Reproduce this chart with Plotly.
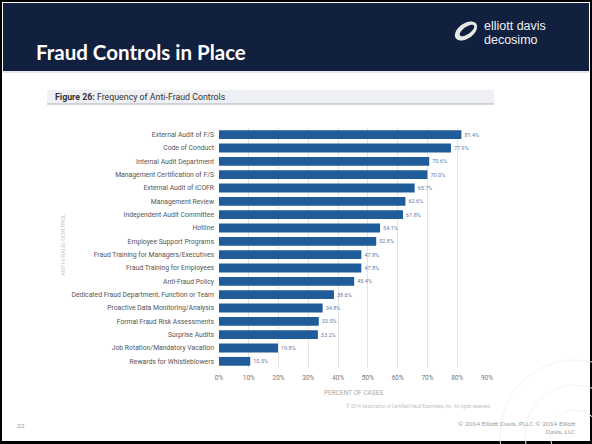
import math
import plotly.graph_objects as go

categories = [
    "External Audit of F/S", "Code of Conduct", "Internal Audit Department",
    "Management Certification of F/S", "External Audit of ICOFR", "Management Review",
    "Independent Audit Committee", "Hotline", "Employee Support Programs",
    "Fraud Training for Managers/Executives", "Fraud Training for Employees",
    "Anti-Fraud Policy", "Dedicated Fraud Department, Function or Team",
    "Proactive Data Monitoring/Analysis", "Formal Fraud Risk Assessments",
    "Surprise Audits", "Job Rotation/Mandatory Vacation", "Rewards for Whistleblowers",
]
values = [81.4, 77.9, 70.6, 70.0, 65.7, 62.6, 61.8, 54.1, 52.8, 47.8, 47.8,
          45.4, 38.6, 34.8, 33.5, 33.2, 19.8, 10.5]
x_ticks = [0, 10, 20, 30, 40, 50, 60, 70, 80, 90]
x_tick_labels = [f"{t}%" for t in x_ticks]

W, H = 592, 444
L, R, T, B = 219, 487, 128, 368


def px(x):
    return (x - L) / (R - L)


def py(y):
    return (B - y) / (B - T)


def ellipse_path(cx, cy, rx, ry, rot_deg, n=48):
    a = math.radians(rot_deg)
    pts = []
    for i in range(n):
        t = 2 * math.pi * i / n
        ex, ey = rx * math.cos(t), ry * math.sin(t)
        x = cx + ex * math.cos(a) - ey * math.sin(a)
        y = cy + ex * math.sin(a) + ey * math.cos(a)
        pts.append(f"{px(x):.5f},{py(y):.5f}")
    return "M" + " L".join(pts) + " Z"


fig = go.Figure(go.Bar(
    x=values, y=categories, orientation="h",
    marker=dict(color="#1f5c99", line=dict(width=0)),
    width=0.66,
    text=[f"{v:.1f}%" for v in values], textposition="outside",
    textfont=dict(size=5.5, color="#5f82aa", family="Roboto"),
    cliponaxis=False,
))

shapes = [
    dict(type="rect", xref="paper", yref="paper", x0=px(2), x1=px(590), y0=py(2), y1=py(441),
         fillcolor="white", line=dict(width=0), layer="below"),
    dict(type="rect", xref="paper", yref="paper", x0=px(3), x1=px(589), y0=py(3), y1=py(71),
         fillcolor="#12203f", line=dict(width=0), layer="below"),
    dict(type="line", xref="paper", yref="paper", x0=px(3), x1=px(589), y0=py(72), y1=py(72),
         line=dict(color="#c9ccd2", width=1), layer="below"),
    dict(type="rect", xref="paper", yref="paper", x0=px(47), x1=px(494), y0=py(90), y1=py(104),
         fillcolor="#eef0f3", line=dict(width=0), layer="below"),
    dict(type="line", xref="paper", yref="paper", x0=px(47), x1=px(494), y0=py(104), y1=py(104),
         line=dict(color="#aeb3ba", width=1), layer="below"),
    dict(type="path", xref="paper", yref="paper", path=ellipse_path(466, 31, 12.5, 7.5, -35),
         fillcolor="#e8e8e8", line=dict(width=0), layer="above"),
    dict(type="path", xref="paper", yref="paper", path=ellipse_path(467, 30.5, 8.5, 3.6, -35),
         fillcolor="#12203f", line=dict(width=0), layer="above"),
]
for r in (25, 50, 75):
    shapes.append(dict(type="circle", xref="paper", yref="paper",
                       x0=px(575 - r), x1=px(575 + r), y0=py(435 - r), y1=py(435 + r),
                       line=dict(color="#f2f5ef", width=1), layer="below"))

gray = "#9a9a9a"
annotations = [
    dict(text="<b>Fraud Controls in Place</b>", x=px(34), y=py(52), xref="paper", yref="paper",
         xanchor="left", yanchor="middle", showarrow=False,
         font=dict(family="Lato", size=20.5, color="white")),
    dict(text="elliott davis", x=px(482), y=py(26), xref="paper", yref="paper",
         xanchor="left", yanchor="middle", showarrow=False,
         font=dict(family="Liberation Sans", size=12.5, color="#f0f0f0")),
    dict(text="decosimo", x=px(482), y=py(40), xref="paper", yref="paper",
         xanchor="left", yanchor="middle", showarrow=False,
         font=dict(family="Liberation Sans", size=12.5, color="#f0f0f0")),
    dict(text="<b>Figure 26:</b> Frequency of Anti-Fraud Controls", x=px(53), y=py(97),
         xref="paper", yref="paper", xanchor="left", yanchor="middle", showarrow=False,
         font=dict(family="Roboto", size=8.8, color="#333333")),
    dict(text="PERCENT OF CASES", x=px(353), y=py(393), xref="paper", yref="paper",
         xanchor="center", yanchor="middle", showarrow=False,
         font=dict(family="Roboto", size=6.5, color="#aaaaaa")),
    dict(text="ANTI-FRAUD CONTROL", x=px(62), y=py(245), xref="paper", yref="paper",
         xanchor="center", yanchor="middle", showarrow=False, textangle=-90,
         font=dict(family="Roboto", size=6, color="#c4c4c4")),
    dict(text="© 2014 Association of Certified Fraud Examiners, Inc. All rights reserved.",
         x=px(493), y=py(406), xref="paper", yref="paper", xanchor="right", yanchor="middle",
         showarrow=False, font=dict(family="Roboto", size=4.5, color="#c0c0c0")),
    dict(text="22", x=px(15), y=py(425), xref="paper", yref="paper", xanchor="left",
         yanchor="middle", showarrow=False, font=dict(family="Lato", size=6.5, color=gray)),
    dict(text="© 2014 Elliott Davis, PLLC © 2014 Elliott<br>Davis, LLC", x=px(578), y=py(427),
         xref="paper", yref="paper", xanchor="right", yanchor="middle", align="right",
         showarrow=False, font=dict(family="Lato", size=6.5, color=gray)),
]

fig.update_layout(
    width=W, height=H,
    margin=dict(l=L, r=W - R, t=T, b=H - B, pad=0),
    paper_bgcolor="black", plot_bgcolor="rgba(0,0,0,0)",
    showlegend=False,
    shapes=shapes, annotations=annotations,
    xaxis=dict(range=[0, 90], tickvals=x_ticks, ticktext=x_tick_labels,
               showgrid=True, gridcolor="#e4e4e4", gridwidth=1, zeroline=False,
               showline=False, ticks="", ticklabelstandoff=4,
               tickfont=dict(family="Roboto", size=6.5, color="#777777")),
    yaxis=dict(autorange=False, range=[17.5, -0.5], showgrid=False, zeroline=False,
               ticks="", ticklabelstandoff=4, showline=False,
               tickfont=dict(family="Roboto", size=6.8, color="#555555")),
)

fig.write_html("out.html")
